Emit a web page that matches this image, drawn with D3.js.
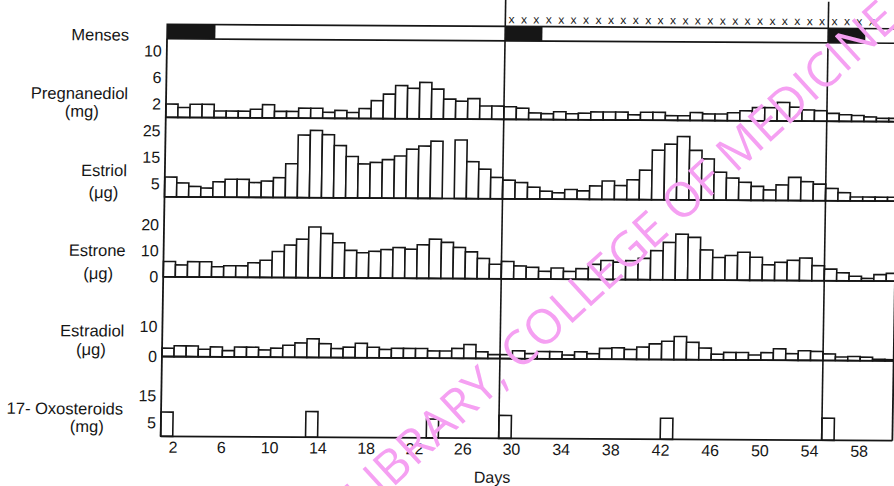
<!DOCTYPE html>
<html>
<head>
<meta charset="utf-8">
<script src="https://cdn.jsdelivr.net/npm/d3@7"></script>
<style>
  body { margin: 0; background: #fff; }
  svg text { font-family: "Liberation Sans", Arial, sans-serif; fill: #161616; }
</style>
</head>
<body>
<svg width="894" height="486"></svg>
<script>
/* Daily values for days 1-60 (three cycles). null = no sample that day */
var days = d3.range(1, 61);

var pregnanediol = [2.0, 1.5, 2.0, 2.0, 1.0, 1.0, 1.0, 1.3, 2.0, 1.0,
                    1.0, 1.5, 1.5, 0.9, 1.2, 0.9, 1.5, 2.7, 3.7, 5.0,
                    4.6, 5.5, 4.5, 3.0, 2.7, 3.1, 2.0, 2.0, 1.9, 1.7,
                    1.0, 0.9, 1.2, 0.9, 1.0, 1.2, 1.2, 1.2, 0.8, 1.2,
                    1.2, 0.7, 0.7, 1.2, 1.0, 1.0, 1.2, 1.5, 2.0, 2.0,
                    2.8, 2.1, 1.7, 1.6, 1.2, 1.0, 0.9, 0.7, 0.5, 0.5];

var estriol = [7.5, 5.3, 4.0, 3.4, 5.8, 6.8, 6.8, 5.6, 6.2, 7.5,
               12.8, 23.7, 25.5, 23.9, 19.8, 15.7, 12.9, 13.5, 14.6, 16.0,
               18.6, 19.8, 21.7, null, 22.2, 14.0, 11.2, 8.1, 7.1, 6.2,
               4.5, 3.0, 2.4, 3.7, 3.2, 5.1, 7.0, 5.3, 7.5, 11.2,
               18.8, 21.1, 24.0, 18.8, 15.6, 10.6, 8.4, 6.8, 5.3, 4.0,
               5.9, 8.8, 7.2, 6.3, 4.7, 3.1, 1.5, 1.5, 1.5, 1.5];

var estrone = [5.9, 4.6, 5.9, 5.9, 4.0, 4.4, 4.4, 5.6, 6.6, 10.0,
               12.5, 14.8, 19.5, 17.0, 13.5, 10.6, 9.7, 10.3, 11.0, 11.8,
               11.2, 12.9, 15.1, 13.9, 12.0, 10.3, 7.8, 5.6, 6.7, 5.0,
               4.5, 3.0, 4.3, 3.0, 4.1, 5.8, 7.3, 6.7, 7.3, 8.2,
               11.2, 14.4, 17.6, 16.4, 11.6, 8.7, 9.5, 10.8, 8.9, 6.0,
               7.0, 7.8, 8.7, 5.8, 4.5, 3.1, 1.8, 1.0, 2.5, 3.0];

var estradiol = [2.8, 3.6, 3.6, 2.5, 3.3, 2.1, 3.3, 3.3, 2.4, 3.0,
                 4.0, 4.8, 6.2, 4.6, 3.0, 3.5, 4.8, 3.5, 2.8, 3.2,
                 3.2, 3.2, 2.4, 2.4, 3.3, 4.6, 2.2, 1.3, 1.3, 2.6,
                 1.7, 2.4, 2.4, 1.3, 2.4, 1.8, 3.6, 3.8, 3.3, 4.1,
                 5.2, 6.1, 7.7, 5.8, 3.9, 1.9, 2.5, 2.5, 1.7, 2.5,
                 3.8, 2.2, 3.2, 3.0, 2.2, 1.2, 1.4, 1.2, 0.5, 0.4];

/* 17-oxosteroids were only measured on a few days */
var oxoDays = [1, 13, 23, 29, 42, 55];
var oxosteroids = [9.0, 9.5, 7.0, 8.5, 7.8, 8.2];

var mensesDays = [1, 2, 3, 4, 29, 30, 31, 55, 56, 57];
var crossDays = d3.range(29, 59);
var cycleStarts = [29, 55];
var dayTicks = [2, 6, 10, 14, 18, 22, 26, 30, 34, 38, 42, 46, 50, 54, 58];

var svg = d3.select("svg"),
    ink = "#161616",
    top = 14.5, stripMid = 26.5, stripBottom = 41,
    right = 895.7;

/* the original is a slightly skewed scan, so the drawing sits in one sheared group */
var g = svg.append("g")
    .attr("transform", "translate(528,230) matrix(1,0.006,-0.016,1,0,0) translate(-528,-230)");

/* day scale, piecewise so that the cycle boundaries land where they are in the figure */
var x = d3.scaleLinear()
    .domain([0, 28, 54, 60])
    .range([164, 502, 825, 899.4]);

svg.append("defs").append("clipPath")
    .attr("id", "plot")
  .append("rect")
    .attr("x", 160).attr("y", 0)
    .attr("width", right - 160).attr("height", 480);

/* panel layout: baseline, pixels per unit, tick values */
var panels = [
  {name: "Pregnanediol", unit: "(mg)", values: pregnanediol, base: 119.5, ppu: 6.63, ticks: [2, 6, 10], nameY: 101.6, unitX: 80, unitY: 119.6},
  {name: "Estriol", unit: "(\u03bcg)", values: estriol, base: 199, ppu: 2.64, ticks: [5, 15, 25], nameY: 178.6, unitX: 103, unitY: 200.6},
  {name: "Estrone", unit: "(\u03bcg)", values: estrone, base: 279, ppu: 2.6, ticks: [0, 10, 20], nameY: 258.6, unitX: 99, unitY: 281.6},
  {name: "Estradiol", unit: "(\u03bcg)", values: estradiol, base: 358.7, ppu: 3, ticks: [0, 10], nameY: 339, unitX: 93, unitY: 357.6},
  {name: "17- Oxosteroids", unit: "(mg)", values: null, base: 438.5, ppu: 2.7, ticks: [5, 15], nameY: 417, unitX: 90, unitY: 434.6}
];

var plot = g.append("g").attr("clip-path", "url(#plot)");

panels.forEach(function(p) {
  var y = d3.scaleLinear()
      .domain([0, 10])
      .range([p.base, p.base - 10 * p.ppu]);

  var bars;
  if (p.values) {
    bars = days.map(function(d, i) { return {day: d, value: p.values[i]}; });
  } else {
    bars = oxoDays.map(function(d, i) { return {day: d, value: oxosteroids[i]}; });
  }
  bars = bars.filter(function(d) { return d.value != null; });

  plot.append("g")
    .selectAll("rect")
    .data(bars)
    .join("rect")
      .attr("x", function(d) { return x(d.day - 1); })
      .attr("width", function(d) { return x(d.day) - x(d.day - 1); })
      .attr("y", function(d) { return y(d.value); })
      .attr("height", function(d) { return y(0) - y(d.value); })
      .attr("fill", "#fff")
      .attr("stroke", ink)
      .attr("stroke-width", 1.6);

  /* baseline of the panel */
  g.append("line")
      .attr("x1", x(0)).attr("x2", right)
      .attr("y1", p.base).attr("y2", p.base)
      .attr("stroke", ink)
      .attr("stroke-width", 1.8);

  /* value labels, no tick marks */
  var axis = g.append("g")
      .attr("transform", "translate(" + x(0) + ",0)")
      .call(d3.axisLeft(y).tickValues(p.ticks).tickSize(0).tickPadding(5));
  axis.select(".domain").remove();
  axis.selectAll("text")
      .style("font-size", "16px")
      .attr("fill", ink);

  g.append("text")
      .attr("x", 126)
      .attr("y", p.nameY)
      .attr("text-anchor", "end")
      .style("font-size", "16.5px")
      .text(p.name);

  g.append("text")
      .attr("x", p.unitX)
      .attr("y", p.unitY)
      .attr("text-anchor", "middle")
      .style("font-size", "16.5px")
      .text(p.unit);
});

/* Menses strip: upper row with crosses, lower row with black blocks */
var runs = [];
mensesDays.forEach(function(d) {
  var last = runs[runs.length - 1];
  if (last && last.end === d - 1) last.end = d;
  else runs.push({start: d, end: d});
});

g.append("g")
  .selectAll("rect")
  .data(runs)
  .join("rect")
    .attr("x", function(d) { return x(d.start - 1); })
    .attr("width", function(d) { return x(d.end) - x(d.start - 1); })
    .attr("y", stripMid)
    .attr("height", stripBottom - stripMid)
    .attr("fill", ink);

g.append("rect")
    .attr("x", x(0)).attr("y", top)
    .attr("width", right + 20 - x(0)).attr("height", stripMid - top)
    .attr("fill", "none").attr("stroke", ink).attr("stroke-width", 1.6);

g.append("rect")
    .attr("x", x(0)).attr("y", stripMid)
    .attr("width", right + 20 - x(0)).attr("height", stripBottom - stripMid)
    .attr("fill", "none").attr("stroke", ink).attr("stroke-width", 1.6);

g.append("g")
  .selectAll("text")
  .data(crossDays)
  .join("text")
    .attr("x", function(d) { return x(d - 0.5); })
    .attr("y", 23.5)
    .attr("text-anchor", "middle")
    .style("font-size", "12px")
    .text("x");

g.append("text")
    .attr("x", 126)
    .attr("y", 43)
    .attr("text-anchor", "end")
    .style("font-size", "16.5px")
    .text("Menses");

/* left axis and right frame */
g.append("line")
    .attr("x1", x(0)).attr("x2", x(0))
    .attr("y1", stripBottom).attr("y2", 438.5)
    .attr("stroke", ink).attr("stroke-width", 1.8);

g.append("line")
    .attr("x1", right).attr("x2", right)
    .attr("y1", stripBottom).attr("y2", 438.5)
    .attr("stroke", ink).attr("stroke-width", 1.8);

/* cycle boundaries */
g.append("g")
  .selectAll("line")
  .data(cycleStarts)
  .join("line")
    .attr("x1", function(d) { return x(d - 1); })
    .attr("x2", function(d) { return x(d - 1); })
    .attr("y1", top).attr("y2", 438.5)
    .attr("stroke", ink)
    .attr("stroke-width", 1.6);

/* day axis: a label marks the start of its day */
var xAxis = g.append("g")
    .attr("transform", "translate(0,438.5)")
    .call(d3.axisBottom(x)
      .tickValues(dayTicks.map(function(d) { return d - 1; }))
      .tickFormat(function(d) { return d + 1; })
      .tickSize(0)
      .tickPadding(5));
xAxis.select(".domain").remove();
xAxis.selectAll("text")
    .style("font-size", "16px")
    .attr("fill", ink);

g.append("text")
    .attr("x", 496)
    .attr("y", 483)
    .attr("text-anchor", "middle")
    .style("font-size", "16px")
    .text("Days");

/* library stamp across the scan */
svg.append("text")
    .attr("transform", "translate(621,256) rotate(-42.5)")
    .attr("text-anchor", "middle")
    .attr("dy", "0.35em")
    .style("font-family", "'Open Sans', 'Liberation Sans', sans-serif")
    .style("font-size", "48px")
    .style("fill", "#f5a0f2")
    .text("LIBRARY, COLLEGE OF MEDICINE");
</script>
</body>
</html>
